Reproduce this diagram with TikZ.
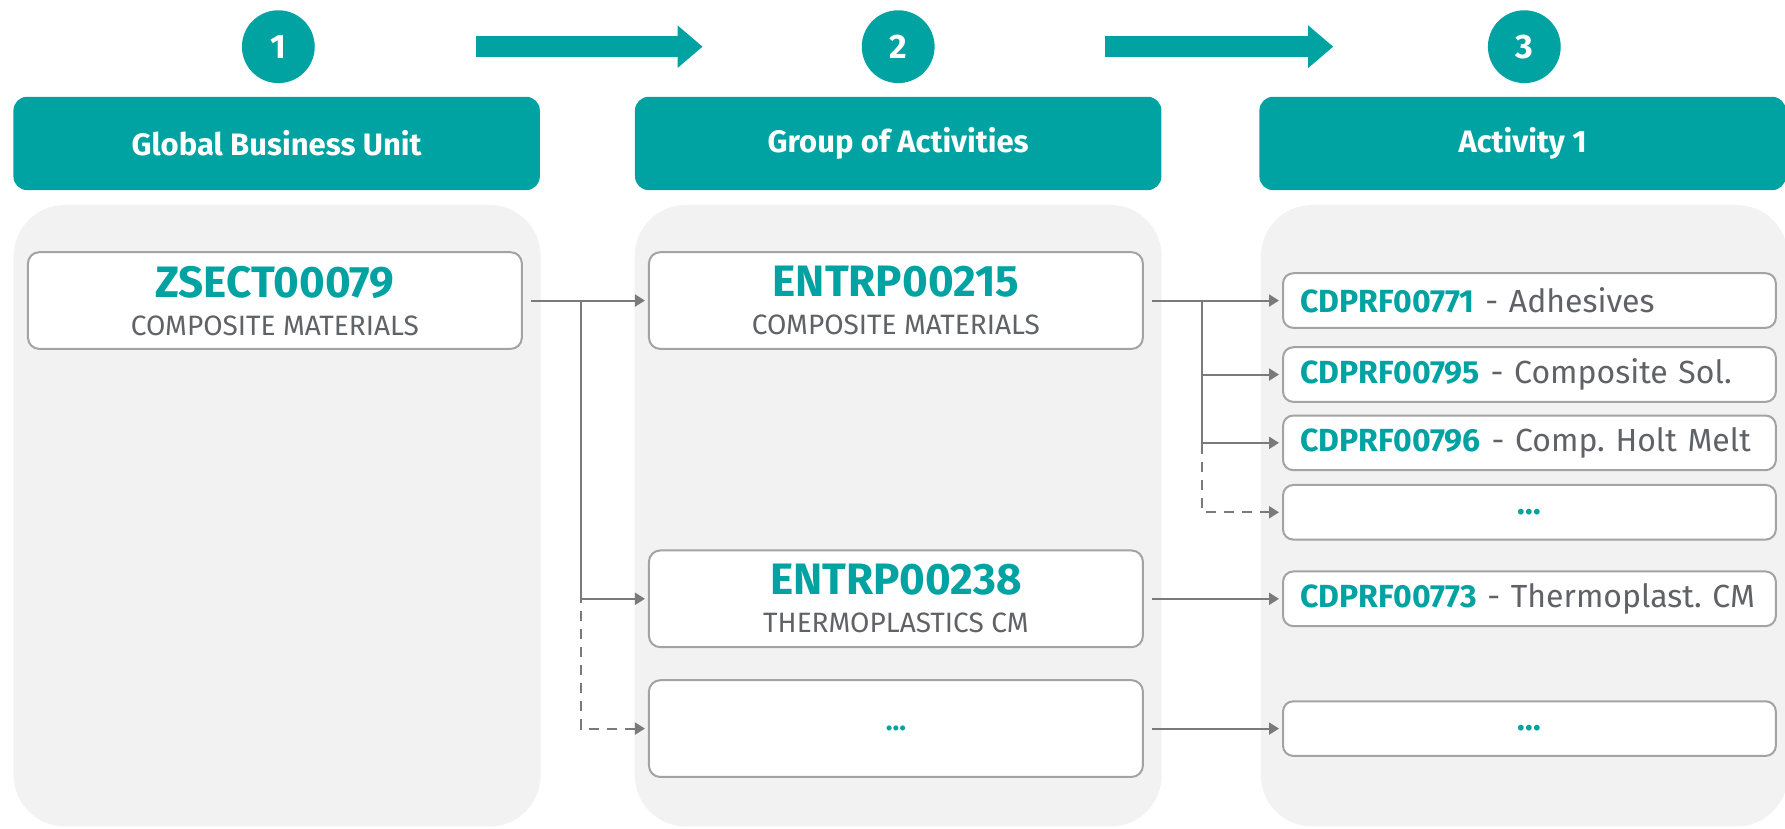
\documentclass[tikz,border=0pt]{standalone}
\usepackage{fontspec}
\setmainfont{Fira Sans}
\usetikzlibrary{arrows.meta}
\frenchspacing

\definecolor{teal}{HTML}{00A3A1}
\definecolor{panelgray}{HTML}{F2F2F2}
\definecolor{cardline}{HTML}{A3A3A3}
\definecolor{linkgray}{HTML}{7A7A7A}
\definecolor{descgray}{HTML}{5F6266}

\newcommand\idcode[1]{{\color{teal}\bfseries #1}}
\newcommand\desc[1]{{\color{descgray}#1}}

\begin{document}
\begin{tikzpicture}
    [x=0.02cm,y=-0.02cm,
     num/.style={circle,fill=teal,minimum size=1.28cm,inner sep=0pt,text=white,font=\bfseries\fontsize{17}{20}\selectfont},
     hdr/.style={fill=teal,rounded corners=0.24cm,minimum width=9.25cm,minimum height=1.64cm,text=white,font=\bfseries\fontsize{15.5}{18}\selectfont},
     panel/.style={fill=panelgray,rounded corners=0.9cm,minimum width=9.26cm,minimum height=10.92cm},
     card/.style={draw=cardline,line width=1pt,fill=white,rounded corners=0.2cm,minimum width=8.68cm,minimum height=1.7cm,align=center,font=\fontsize{14}{19}\selectfont},
     item/.style={draw=cardline,line width=1pt,fill=white,rounded corners=0.18cm,text width=8.06cm,inner xsep=0.3cm,minimum height=0.96cm,align=left,font=\fontsize{16}{19}\selectfont},
     flow/.style={-{Triangle[length=0.44cm,width=0.72cm]},line width=0.38cm,teal},
     pre/.style={<-,>={Triangle[length=5pt,width=6pt]},shorten <=1.5pt,shorten >=4pt,linkgray,line width=1pt},
     branch/.style={<-,>={Triangle[length=5pt,width=6pt]},shorten <=1.5pt,linkgray,line width=1pt},
     dashed/.style={dash pattern=on 5pt off 4pt}]
    \useasboundingbox (0,0) rectangle (1568,728);
    % steps
    \node [num] (numA) at (244.5,41) {1};
    \node [num] (numB) at (789,41) {2};
    \node [num] (numC) at (1339,41) {3};
    \draw [flow,shorten <=2.82cm,shorten >=2.79cm] (numA) -- (numB);
    \draw [flow,shorten <=2.99cm,shorten >=2.71cm] (numB) -- (numC);
    \node [hdr] (hdrA) at (243,126) {Global Business Unit};
    \node [hdr] (hdrB) at (789,126) {Group of Activities};
    \node [hdr] (hdrC) at (1337.5,126) {Activity 1};
    % columns
    \node [panel] (panA) at (243.5,453) {};
    \node [panel] (panB) at (789,453) {};
    \node [panel] (panC) at (1339,453) {};
    \node [card] (gbu) at (241.5,264)
      {\idcode{\fontsize{22}{24}\selectfont ZSECT00079}\\\desc{COMPOSITE MATERIALS}};
    \node [card] (grpA) at (787,264)
      {\idcode{\fontsize{22}{24}\selectfont ENTRP00215}\\\desc{COMPOSITE MATERIALS}}
      edge [pre] (gbu);
    \node [card] (grpB) at (787,526)
      {\idcode{\fontsize{22}{24}\selectfont ENTRP00238}\\\desc{THERMOPLASTICS CM}};
    \node [card] (grpC) at (787,640) {\idcode{...}};
    \node [item] (actA) at (1343.5,264) {\idcode{CDPRF00771} \desc{- Adhesives}}
      edge [pre] (grpA);
    \node [item] (actB) at (1343.5,329) {\idcode{CDPRF00795} \desc{- Composite Sol.}};
    \node [item] (actC) at (1343.5,389) {\idcode{CDPRF00796} \desc{- Comp. Holt Melt}};
    \node [item,align=center] (actD) at (1343.5,450) {\idcode{...}};
    \node [item] (actE) at (1343.5,526) {\idcode{CDPRF00773} \desc{- Thermoplast. CM}}
      edge [pre] (grpB);
    \node [item,align=center] (actF) at (1343.5,640) {\idcode{...}}
      edge [pre] (grpC);
    % branches
    \coordinate (j1) at (510,264);
    \coordinate (j2) at (1056,264);
    \draw [branch] (grpB.west) -| (j1);
    \draw [branch,dashed] (grpC.west) -| (j1 |- grpB.west);
    \draw [branch] (actB.west) -| (j2);
    \draw [branch] (actC.west) -| (j2);
    \draw [branch,dashed] (actD.west) -| (j2 |- actC.west);
  \end{tikzpicture}
\end{document}
